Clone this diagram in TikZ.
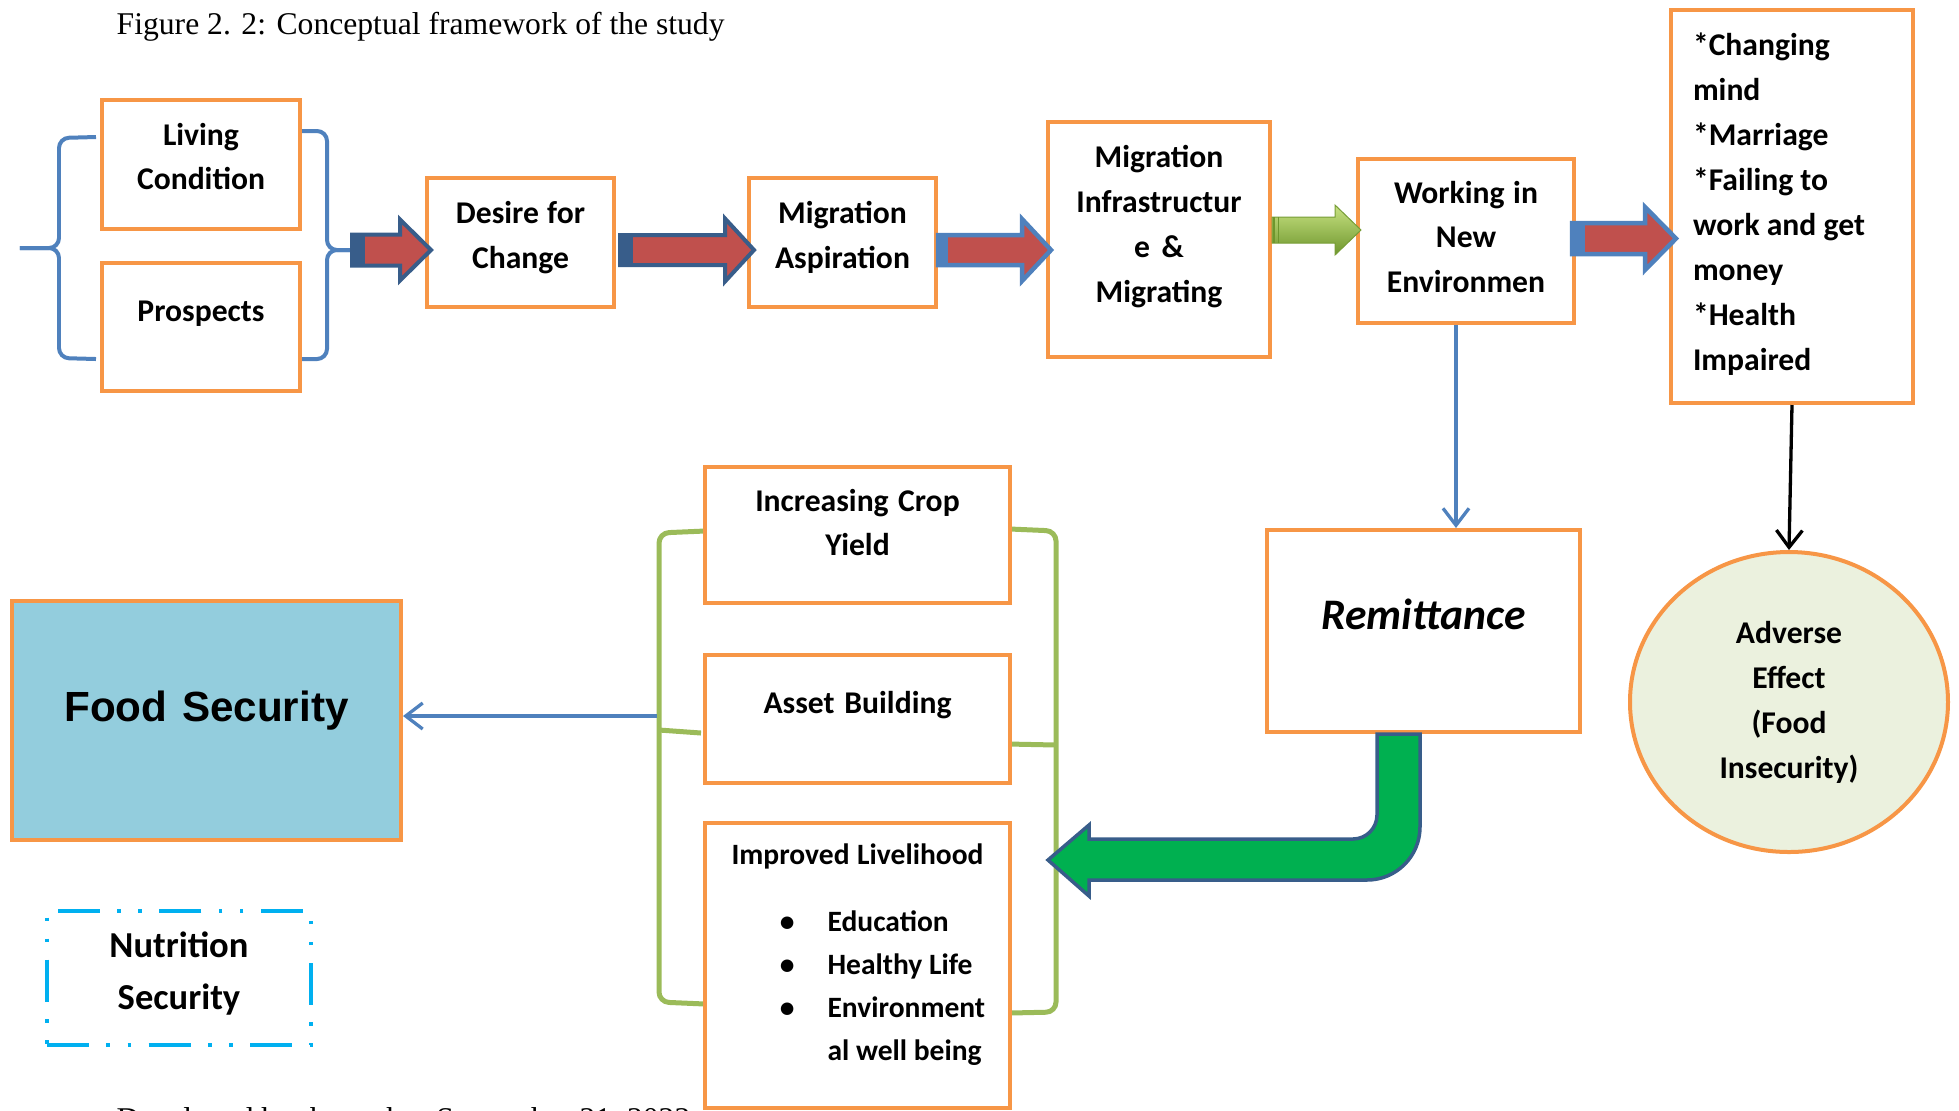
\documentclass[tikz,border=0pt]{standalone}
\usepackage{xcolor}
\usepackage{fontspec}
\setmainfont{Carlito}
\newfontfamily\timesfont{Liberation Serif}
\newfontfamily\arialfont{Liberation Sans}
\usepackage{tikz}
\usetikzlibrary{arrows.meta}
\usetikzlibrary{shapes.geometric}

\definecolor{boxorange}{HTML}{F79646}
\definecolor{linkblue}{HTML}{4F81BD}
\definecolor{navyline}{HTML}{385D8A}
\definecolor{arrowred}{HTML}{C0504D}
\definecolor{leafgreen}{HTML}{9BBB59}
\definecolor{limetop}{HTML}{C8E282}
\definecolor{limebottom}{HTML}{6E962D}
\definecolor{deepgreen}{HTML}{00B050}
\definecolor{skyfill}{HTML}{93CDDD}
\definecolor{palegreen}{HTML}{EBF1DE}
\definecolor{dashcyan}{HTML}{00B0F0}

\begin{document}
\begin{tikzpicture}[
  box/.style={draw=boxorange, line width=0.04cm, fill=white, inner sep=0.1cm, align=center,
    font=\bfseries\fontsize{9}{12.8}\selectfont,
    execute at begin node={\spaceskip=0pt\xspaceskip=0pt}},
  padbelow/.style={execute at end node={\endgraf\kern#1}},
  bracket/.style={draw=linkblue, line width=0.04cm, rounded corners=0.1cm},
  fruitbracket/.style={draw=leafgreen, line width=0.05cm, rounded corners=0.1cm},
  redarrow/.style={fill=arrowred, draw=navyline, line width=0.04cm},
  bluearrow/.style={fill=arrowred, draw=linkblue, line width=0.045cm},
  link/.style={draw=linkblue, line width=0.033cm, -{Straight Barb[length=0.17cm,width=0.26cm]}},
  blackline/.style={draw=black, line width=0.033cm, -{Straight Barb[length=0.17cm,width=0.26cm]}}
]
\useasboundingbox (0,0) rectangle (19.59,-11.10);

\node[anchor=base west, inner sep=0, font=\timesfont\fontsize{9}{11}\selectfont] (caption) at (1.16,-0.34) {Figure 2. 2: Conceptual framework of the study};

% braces in front of the first step
\coordinate (rbr) at (3.52,-2.50);
\draw[bracket] (0.20,-2.48) -- (0.59,-2.48) -- (0.59,-1.38) -- (0.96,-1.37);
\draw[bracket] (0.20,-2.48) -- (0.59,-2.48) -- (0.59,-3.58) -- (0.96,-3.59);
\draw[bracket] (rbr) -- (3.27,-2.50) -- (3.27,-1.31) -- (3.00,-1.31);
\draw[bracket] (rbr) -- (3.27,-2.50) -- (3.27,-3.59) -- (3.00,-3.59);

% green brackets round the three outcomes
\draw[fruitbracket] (7.05,-5.31) -- (6.59,-5.33) -- (6.59,-10.02) -- (7.05,-10.04);
\draw[fruitbracket] (6.59,-7.30) -- (7.01,-7.33);
\draw[fruitbracket] (10.10,-5.29) -- (10.56,-5.31) -- (10.56,-10.12) -- (10.10,-10.13);
\draw[fruitbracket] (10.08,-7.44) -- (10.56,-7.45);

% top row
\node[box, text width=1.78cm, minimum width=1.98cm, minimum height=1.29cm, padbelow=0.16cm] (living) at (2.01,-1.645) {Living\\Condition};
\node[box, text width=1.78cm, minimum width=1.98cm, minimum height=1.28cm, padbelow=0.26cm] (prospects) at (2.01,-3.27) {Prospects};
\node[box, text width=1.67cm, minimum width=1.87cm, minimum height=1.29cm, padbelow=0.10cm] (desire) at (5.205,-2.425) {Desire for\\Change};
\node[box, text width=1.67cm, minimum width=1.87cm, minimum height=1.29cm, padbelow=0.10cm] (aspiration) at (8.425,-2.425) {Migration\\Aspiration};
\node[box, text width=2.02cm, minimum width=2.22cm, minimum height=2.35cm, padbelow=0.26cm] (infra) at (11.59,-2.395) {Migration\\Infrastructur\\e \&\\Migrating};
\node[box, text width=1.96cm, minimum width=2.16cm, minimum height=1.64cm, padbelow=0.08cm] (work) at (14.66,-2.41) {Working in\\New\\Environmen};
\node[box, align=left, inner xsep=0.22cm, text width=1.98cm, minimum width=2.42cm, minimum height=3.93cm, padbelow=0.04cm] (effects) at (17.92,-2.065) {*Changing\\mind\\{}*Marriage\\{}*Failing to\\work and get\\money\\{}*Health\\Impaired};

% lower part
\node[box, text width=2.85cm, minimum width=3.05cm, minimum height=1.36cm, padbelow=0.25cm] (crop) at (8.575,-5.35) {Increasing Crop\\Yield};
\node[box, text width=2.85cm, minimum width=3.05cm, minimum height=1.28cm, padbelow=0.28cm] (asset) at (8.575,-7.19) {Asset Building};
\node[box, font=\bfseries\fontsize{8.4}{12.2}\selectfont, text width=2.85cm, minimum width=3.05cm, minimum height=2.85cm, padbelow=0.14cm] (livelihood) at (8.575,-9.655) {Improved Livelihood\\[0.24cm]
  \hspace*{0.50cm}\begin{tabular}[t]{@{}l@{\hspace{0.33cm}}l@{}}
  \textbullet & Education\\
  \textbullet & Healthy Life\\
  \textbullet & Environment\\
              & al well being
  \end{tabular}\hfill};
\node[box, font=\bfseries\itshape\fontsize{12.4}{15}\selectfont, text width=2.93cm, minimum width=3.13cm, minimum height=2.02cm, padbelow=0.34cm] (remit) at (14.235,-6.31) {Remittance};
\node[box, fill=skyfill, font=\arialfont\bfseries\fontsize{12}{14}\selectfont, text width=3.69cm, minimum width=3.89cm, minimum height=2.39cm, padbelow=0.20cm] (food) at (2.065,-7.205) {Food Security};
\node[box, draw=dashcyan, dash pattern=on 0.42cm off 0.175cm on 0.035cm off 0.175cm on 0.035cm off 0.175cm, font=\bfseries\fontsize{10.4}{15}\selectfont, text width=2.44cm, minimum width=2.64cm, minimum height=1.34cm, padbelow=0.09cm] (nutrition) at (1.79,-9.78) {Nutrition\\Security};
\node[box, ellipse, fill=palegreen, inner sep=0.05cm, text width=1.6cm, minimum width=3.18cm, minimum height=3.0cm] (adverse) at (17.89,-7.02) {Adverse\\Effect\\(Food\\Insecurity)};

% block arrows along the top row
\draw[redarrow] (rbr) ++(0,0.155) -- ++(0.48,0) -- ++(0,0.15) -- ++(0.31,-0.305) -- ++(-0.31,-0.305) -- ++(0,0.15) -- ++(-0.48,0) -- cycle;
\fill[navyline] (rbr) ++(0,0.155) rectangle ++(0.13,-0.31);
\draw[redarrow] (desire.east) ++(0.04,0.075) -- ++(1.05,0) -- ++(0,0.165) -- ++(0.29,-0.315) -- ++(-0.29,-0.315) -- ++(0,0.165) -- ++(-1.05,0) -- cycle;
\fill[navyline] (desire.east) ++(0.04,0.075) rectangle ++(0.13,-0.30);
\draw[bluearrow] (aspiration.east) ++(0,0.075) -- ++(0.84,0) -- ++(0,0.16) -- ++(0.29,-0.31) -- ++(-0.29,-0.31) -- ++(0,0.16) -- ++(-0.84,0) -- cycle;
\fill[linkblue] (aspiration.east) ++(0,0.075) rectangle ++(0.10,-0.30);
\path[top color=limetop, bottom color=limebottom, draw=limebottom!80!leafgreen, line width=0.01cm] (infra.east) ++(0,0.225) -- ++(0.63,0) -- ++(0,0.12) -- ++(0.26,-0.25) -- ++(-0.26,-0.25) -- ++(0,0.12) -- ++(-0.63,0) -- cycle;
\draw[limebottom, line width=0.015cm] (infra.east) ++(0.02,0.225) -- ++(0,-0.26) ++(0.045,0.26) -- ++(0,-0.26);
\draw[bluearrow] (work.east) ++(-0.04,0.18) -- ++(0.73,0) -- ++(0,0.16) -- ++(0.31,-0.315) -- ++(-0.31,-0.315) -- ++(0,0.16) -- ++(-0.73,0) -- cycle;
\fill[linkblue] (work.east) ++(-0.04,0.18) rectangle ++(0.13,-0.31);

% bent arrow from remittance back to the outcomes
\draw[fill=deepgreen, draw=navyline, line width=0.035cm] (13.77,0 |- remit.south) -- (13.77,-8.15) arc[start angle=0, end angle=-90, radius=0.24] -- (10.89,-8.39) -- (10.89,-8.25) -- (10.48,-8.60) -- (10.89,-8.96) -- (10.89,-8.80) -- (13.67,-8.80) arc[start angle=-90, end angle=0, radius=0.53] -- (14.20,0 |- remit.south) -- cycle;

% thin connectors
\coordinate (lbr) at (6.57,-7.16);
\draw[link] (lbr) -- (food.east |- lbr);
\draw[link] (14.56,0 |- work.south) -- (14.56,0 |- remit.north);
\draw[blackline] (effects.south) -- (adverse.north);

\node[anchor=base west, inner sep=0, font=\timesfont\fontsize{9}{11}\selectfont] (source) at (1.16,-11.29) {Developed by the author September 21, 2022};
\end{tikzpicture}
\end{document}
